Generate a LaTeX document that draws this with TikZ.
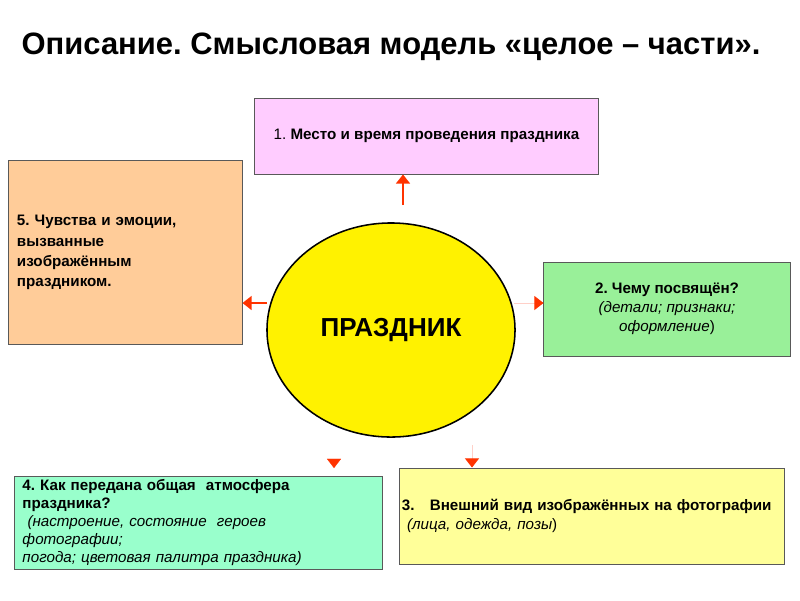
\documentclass[tikz,border=0pt]{standalone}
\usepackage{fontspec}
\setmainfont{Liberation Sans}
\usetikzlibrary{arrows.meta, shapes.geometric}
\frenchspacing
\definecolor{pinkbox}{HTML}{FFCCFF}
\definecolor{peachbox}{HTML}{FFCC99}
\definecolor{greenbox}{HTML}{99F099}
\definecolor{mintbox}{HTML}{99FFCC}
\definecolor{creambox}{HTML}{FFFF99}
\definecolor{arrred}{HTML}{FF3300}
\definecolor{arrpale}{HTML}{FFD0C8}
\begin{document}
\begin{tikzpicture}[x=0.025cm, y=-0.025cm,
    box/.style={draw=black!65, line width=0.7pt, inner sep=0pt, font=\fontsize{10.8}{13.4}\selectfont},
    arr/.style={draw=arrred, line width=1.1pt, -{Triangle[width=10pt, length=6.5pt]}},
    palearr/.style={draw=arrpale, line width=0.6pt, -{Triangle[width=10pt, length=6.5pt, color=arrred, fill=arrred]}}]
      \useasboundingbox (0,0) rectangle (800,600);
      % Title
      \node[font=\fontsize{22}{26}\selectfont\bfseries] (title) at (391,47) {Описание. Смысловая модель «целое – части».};
      % Centre
      \node[draw=black, line width=1.1pt, fill=yellow, ellipse, minimum width=6.2cm, minimum height=5.35cm,
        font=\fontsize{18.5}{22}\selectfont\bfseries] (hub) at (391,330) {ПРАЗДНИК};
      % Parts
      \node[box, fill=pinkbox, minimum width=8.575cm, minimum height=1.9cm] (box1) at (426.5,136)
        {1. \textbf{Место и время проведения праздника}};
      \node[box, fill=greenbox, minimum width=6.15cm, minimum height=2.35cm, align=center] (box2) at (667,309)
        {\textbf{2. Чему посвящён?}\\ \textit{(детали; признаки;}\\ \textit{оформление})};
      \node[box, fill=creambox, minimum width=9.6cm, minimum height=2.4cm, text width=9.5cm, align=left] (box3) at (592,516)
        {\textbf{3.\ \ \ Внешний вид изображённых на фотографии}\\ \ \textit{(лица, одежда, позы})};
      \node[box, fill=mintbox, minimum width=9.175cm, minimum height=2.325cm, text width=8.8cm, align=left,
        font=\fontsize{10.8}{12.7}\selectfont] (box4) at (198.5,522.5)
        {\textbf{4. Как передана общая \ атмосфера}\\ \textbf{праздника?}\\
         \ \textit{(настроение, состояние \ героев}\\ \textit{фотографии;}\\ \textit{погода; цветовая палитра праздника)}};
      \node[box, fill=peachbox, minimum width=5.825cm, minimum height=4.575cm, text width=5.425cm, align=left,
        font=\fontsize{10.8}{14.4}\selectfont] (box5) at (125.5,252.5)
        {\textbf{5. Чувства и эмоции,}\\ \textbf{вызванные}\\ \textbf{изображённым}\\ \textbf{праздником.}};
      % Arrows
      \coordinate (t1) at (403,205);
      \coordinate (t5) at (267,303);
      \coordinate (t2) at (514,303);
      \coordinate (t4) at (334,460);
      \coordinate (h4) at (334,468);
      \coordinate (t3) at (472,445);
      \draw[arr] (t1) -- (t1 |- box1.south);
      \draw[arr] (t5) -- (t5 -| box5.east);
      \draw[palearr] (t2) -- (t2 -| box2.west);
      \draw[arr, line width=0.1pt] (t4) -- (h4);
      \draw[palearr] (t3) -- (t3 |- box3.north);
    \end{tikzpicture}
\end{document}
